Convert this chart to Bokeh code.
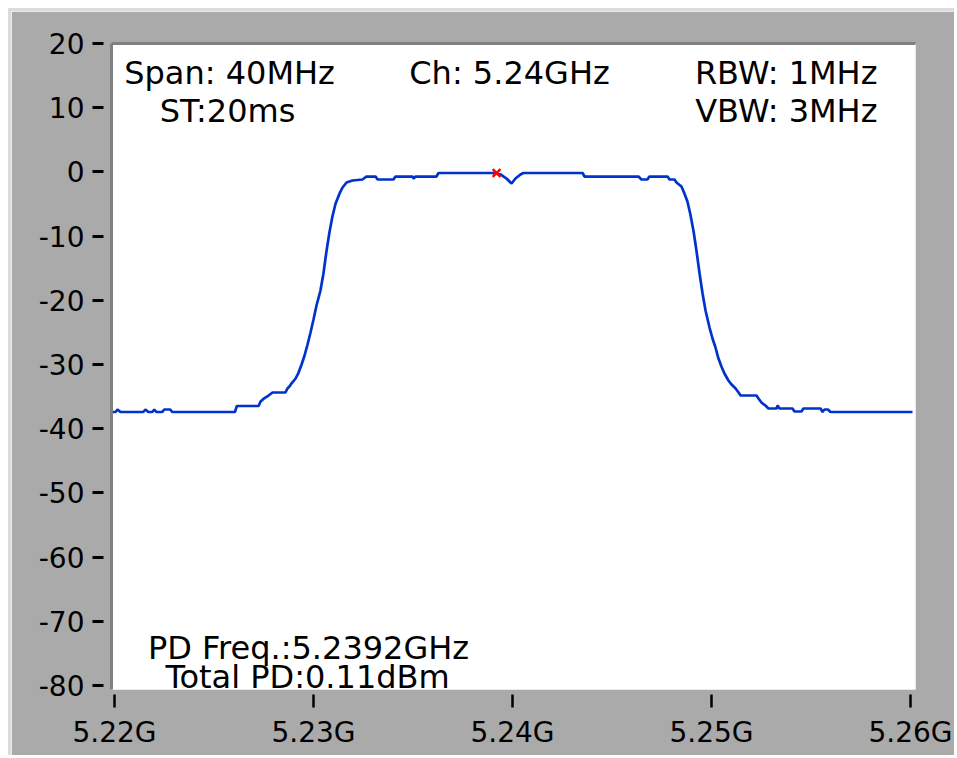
from bokeh.plotting import figure
from bokeh.models import Label, LinearAxis, FixedTicker, Range1d
from bokeh.embed import file_html
from bokeh.resources import INLINE

# ---- data ----
freq_mhz = [5219.90, 5220.05, 5220.15, 5220.30, 5221.45, 5221.55, 5221.70, 5221.90, 5222.00, 5222.10,
            5222.40, 5222.50, 5222.80, 5222.90, 5226.05, 5226.15, 5227.24, 5227.34, 5227.54, 5227.74,
            5227.94, 5228.59, 5228.69, 5228.79, 5228.89, 5229.10, 5229.25, 5229.40, 5229.55, 5229.70,
            5229.85, 5230.00, 5230.15, 5230.35, 5230.50, 5230.65, 5230.80, 5230.95, 5231.11, 5231.31,
            5231.46, 5231.66, 5231.96, 5232.46, 5232.66, 5233.12, 5233.22, 5234.02, 5234.12, 5234.97,
            5235.03, 5235.13, 5236.18, 5236.28, 5238.99, 5239.40, 5239.70, 5239.95, 5240.15, 5240.40,
            5240.55, 5243.52, 5243.62, 5246.33, 5246.48, 5246.78, 5246.88, 5247.79, 5247.89, 5248.14,
            5248.24, 5248.49, 5248.64, 5248.79, 5248.94, 5249.10, 5249.25, 5249.40, 5249.55, 5249.70,
            5249.90, 5250.05, 5250.20, 5250.35, 5250.50, 5250.65, 5250.85, 5251.01, 5251.21, 5251.36,
            5251.46, 5252.26, 5252.36, 5252.51, 5252.71, 5252.86, 5253.27, 5253.32, 5253.42, 5254.07,
            5254.17, 5254.52, 5254.62, 5255.48, 5255.58, 5255.68, 5255.85, 5255.98, 5260.10]
level_dbm = [-37.40, -37.40, -37.01, -37.40, -37.40, -37.01, -37.40, -37.40, -37.01, -37.40,
             -37.40, -37.01, -37.01, -37.40, -37.40, -36.46, -36.46, -35.76, -35.22, -34.83,
             -34.36, -34.36, -33.74, -33.43, -32.96, -32.18, -31.25, -30.00, -28.60, -26.88,
             -25.02, -22.99, -20.81, -18.47, -15.83, -12.40, -9.44, -6.95, -4.92, -3.36,
             -2.43, -1.65, -1.34, -1.18, -0.72, -0.72, -1.18, -1.18, -0.72, -0.72,
             -1.03, -0.72, -0.72, -0.17, -0.17, -0.40, -1.03, -1.81, -1.03, -0.40,
             -0.17, -0.17, -0.72, -0.72, -1.18, -1.18, -0.72, -0.72, -1.18, -1.18,
             -1.65, -2.27, -3.36, -4.61, -6.64, -9.28, -12.40, -15.83, -18.94, -21.59,
             -24.24, -25.95, -27.35, -29.07, -30.31, -31.40, -32.49, -33.12, -33.74, -34.36,
             -34.83, -34.83, -35.30, -35.92, -36.39, -36.85, -36.85, -36.39, -36.85, -36.85,
             -37.32, -37.32, -36.85, -36.85, -37.40, -37.01, -37.01, -37.40, -37.40]

peak_freq_mhz = [5239.2]
peak_level_dbm = [-0.17]

x_ticks = [5220, 5230, 5240, 5250, 5260]
x_tick_labels = ["5.22G", "5.23G", "5.24G", "5.25G", "5.26G"]
y_ticks = [20, 10, 0, -10, -20, -30, -40, -50, -60, -70, -80]
y_tick_labels = ["20", "10", "0", "-10", "-20", "-30", "-40", "-50", "-60", "-70", "-80"]

# annotation texts: (text, x, y, align)
notes = [
    ("Span: 40MHz", 5225.78, 15.48, "center"),
    ("ST:20ms", 5225.68, 9.56, "center"),
    ("Ch: 5.24GHz", 5239.85, 15.48, "center"),
    ("RBW: 1MHz", 5258.34, 15.48, "right"),
    ("VBW: 3MHz", 5258.34, 9.56, "right"),
    ("PD Freq.:5.2392GHz", 5229.75, -74.08, "center"),
    ("Total PD:0.11dBm", 5229.70, -78.75, "center"),
]

FONT = "DejaVu Sans"

p = figure(width=946, height=747, output_backend="svg", toolbar_location=None,
           x_range=Range1d(5219.849, 5260.251), y_range=Range1d(-80.62, 20.0),
           min_border_left=100, min_border_right=42, min_border_top=32, min_border_bottom=69)
p.styles = {"margin-left": "8px", "margin-top": "8px",
            "border-left": "3px solid #dcdcdc", "border-top": "3px solid #dcdcdc"}

p.background_fill_color = "white"
p.border_fill_color = "#aaaaaa"
p.outline_line_color = None
p.grid.visible = False

# left axis
ya = p.yaxis[0]
ya.ticker = FixedTicker(ticks=y_ticks)
ya.major_label_overrides = {t: l for t, l in zip(y_ticks, y_tick_labels)}
ya.axis_line_color = "#808080"
ya.axis_line_width = 3
ya.major_tick_in = -8
ya.major_tick_out = 19
ya.major_tick_line_width = 3
ya.major_tick_line_color = "black"
ya.minor_tick_line_color = None
ya.major_label_standoff = 8
ya.major_label_text_font = FONT
ya.major_label_text_font_size = "28px"
ya.major_label_text_color = "black"

# bottom axis
xa = p.xaxis[0]
xa.ticker = FixedTicker(ticks=x_ticks)
xa.major_label_overrides = {t: l for t, l in zip(x_ticks, x_tick_labels)}
xa.axis_line_color = None
xa.major_tick_in = -5
xa.major_tick_out = 18
xa.major_tick_line_width = 2.5
xa.major_tick_line_color = "black"
xa.minor_tick_line_color = None
xa.major_label_standoff = 8
xa.major_label_text_font = FONT
xa.major_label_text_font_size = "28px"
xa.major_label_text_color = "black"

# top edge (inset border)
top = LinearAxis(ticker=FixedTicker(ticks=[]), axis_line_color="#808080", axis_line_width=3,
                 major_tick_line_color=None, minor_tick_line_color=None,
                 major_label_text_font_size="0px", major_tick_out=0, major_tick_in=0,
                 major_label_standoff=0)
p.add_layout(top, "above")

# trace
p.line(freq_mhz, level_dbm, line_color="#0033cc", line_width=2.7)
p.scatter(peak_freq_mhz, peak_level_dbm, marker="x", size=11, line_color="#ff0000", line_width=2.5)

for text, x, y, align in notes:
    p.add_layout(Label(x=x, y=y, text=text, text_align=align, text_baseline="alphabetic",
                       text_font=FONT, text_font_size="32px", text_color="black"))

open("out.html", "w").write(file_html(p, INLINE))
